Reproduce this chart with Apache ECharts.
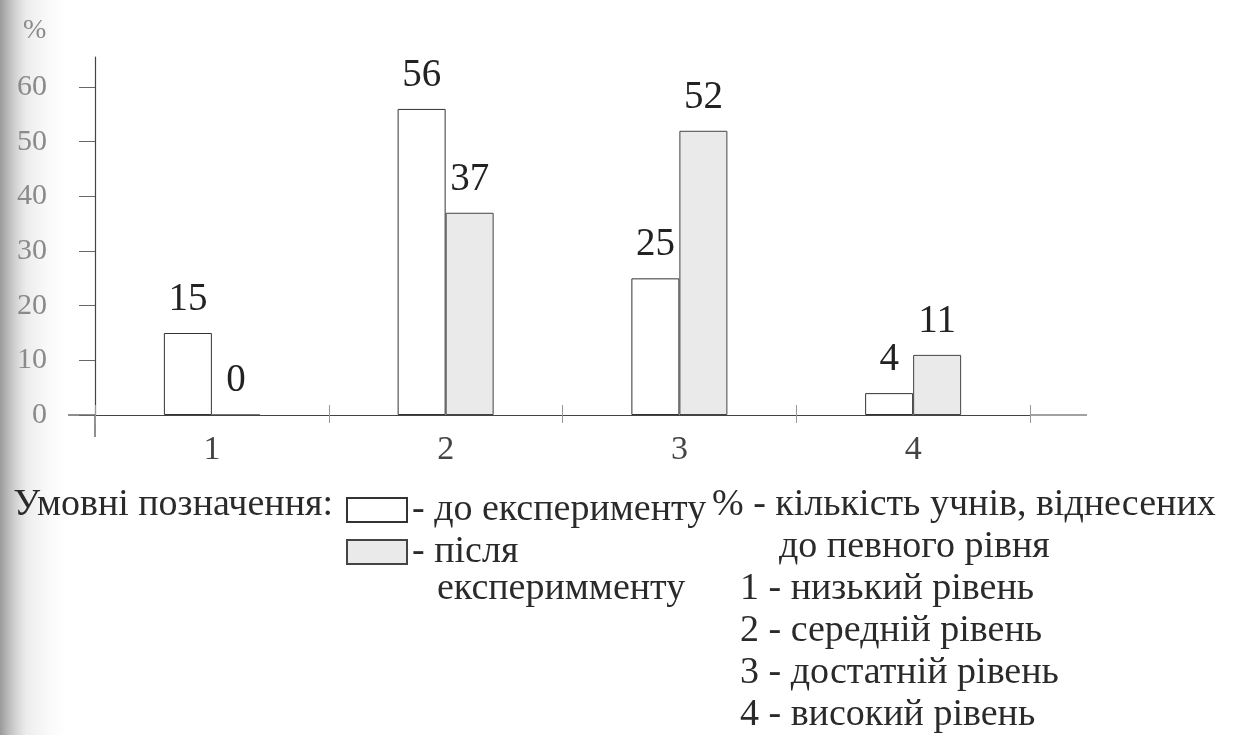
<!DOCTYPE html>
<html>
<head>
<meta charset="utf-8">
<script src="https://cdn.jsdelivr.net/npm/echarts/dist/echarts.min.js"></script>
<style>
  html, body { margin: 0; padding: 0; background: #fff; }
  #main { width: 1233px; height: 735px; }
</style>
</head>
<body>
<div id="main"></div>
<script>
// дані діаграми
var categories = ['1', '2', '3', '4'];
var beforeValues = [15, 56, 25, 4];   // до експерименту
var afterValues = [0, 37, 52, 11];    // після експеримменту
var yTicks = [0, 10, 20, 30, 40, 50, 60];
var seriesNames = ['до експерименту', 'після експеримменту'];
var legendLabels = ['- до експерименту', '- після'];
var notes = [
  '% - кількість учнів, віднесених',
  'до певного рівня',
  '1 - низький рівень',
  '2 - середній рівень',
  '3 - достатній рівень',
  '4 - високий рівень'
];

var serif = '"Liberation Serif", "DejaVu Serif", serif';
var chart = echarts.init(document.getElementById('main'));

// текст підписів під діаграмою (y - центр рядка)
var txt = function (x, y, text, align) {
  return {
    type: 'text', x: x, y: y,
    style: { text: text, font: '38px ' + serif, fill: '#2a2a2a', textAlign: align || 'left', textVerticalAlign: 'middle' }
  };
};

chart.setOption({
  animation: false,
  backgroundColor: '#fff',
  grid: { left: 95, right: 203, top: 57, bottom: 320 },
  legend: {
    orient: 'vertical',
    left: 341, top: 484,
    itemWidth: 60, itemHeight: 24, itemGap: 0,
    icon: 'rect',
    data: seriesNames,
    formatter: function (name) { return legendLabels[seriesNames.indexOf(name)]; },
    textStyle: { fontFamily: serif, fontSize: 38, color: '#2a2a2a', lineHeight: 42 }
  },
  xAxis: [{
    type: 'category',
    data: categories,
    axisLine: { lineStyle: { color: '#444', width: 1.2 } },
    axisTick: { show: true, length: 8, lineStyle: { color: '#999' } },
    axisLabel: { margin: 18, fontFamily: serif, fontSize: 34, color: '#444' }
  }, {
    type: 'category',
    position: 'bottom',
    data: categories,
    axisLine: { show: false },
    axisTick: { show: true, inside: true, length: 10, lineStyle: { color: '#999' } },
    axisLabel: { show: false }
  }],
  yAxis: {
    type: 'value',
    min: 0, max: 65.5,
    splitLine: { show: false },
    axisLine: { show: true, lineStyle: { color: '#444', width: 1.2 } },
    axisTick: { show: true, length: 16, customValues: yTicks, lineStyle: { color: '#666' } },
    axisLabel: { customValues: yTicks, margin: 48, fontFamily: serif, fontSize: 30, color: '#8a8a8a' }
  },
  series: [{
    name: seriesNames[0],
    type: 'bar',
    data: beforeValues,
    barWidth: 48,
    barGap: '0%',
    itemStyle: { color: '#ffffff', borderColor: '#333', borderWidth: 1 },
    label: { show: true, position: 'top', distance: 14, fontFamily: serif, fontSize: 39, color: '#222' }
  }, {
    name: seriesNames[1],
    type: 'bar',
    data: afterValues,
    barWidth: 48,
    itemStyle: { color: '#eaeaea', borderColor: '#444', borderWidth: 1 },
    label: { show: true, position: 'top', distance: 14, fontFamily: serif, fontSize: 39, color: '#222' }
  }]
});

// продовження осей, тінь скану, підписи
var origin = chart.convertToPixel({ xAxisIndex: 0, yAxisIndex: 0 }, [0, 0]);
var zeroY = origin[1];
var graphics = [
  {
    type: 'rect', z: -10, silent: true,
    shape: { x: 0, y: 0, width: 75, height: 735 },
    style: {
      fill: new echarts.graphic.LinearGradient(0, 0, 1, 0, [
        { offset: 0, color: 'rgba(120,120,120,0.75)' },
        { offset: 0.35, color: 'rgba(200,200,200,0.35)' },
        { offset: 1, color: 'rgba(255,255,255,0)' }
      ])
    }
  },
  { type: 'line', shape: { x1: 68, y1: zeroY, x2: 95, y2: zeroY }, style: { stroke: '#444', lineWidth: 1.2 } },
  { type: 'line', shape: { x1: 1030, y1: zeroY, x2: 1087, y2: zeroY }, style: { stroke: '#444', lineWidth: 1.2 } },
  { type: 'line', shape: { x1: 95, y1: zeroY, x2: 95, y2: zeroY + 22 }, style: { stroke: '#444', lineWidth: 1.2 } },
  { type: 'text', x: 23, y: 17, style: { text: '%', font: '28px ' + serif, fill: '#8a8a8a' } },
  txt(333, 505, 'Умовні позначення:', 'right'),
  txt(437, 589, 'експеримменту'),
  txt(712, 505, notes[0]),
  txt(779, 547, notes[1]),
  txt(740, 589, notes[2]),
  txt(740, 631, notes[3]),
  txt(740, 673, notes[4]),
  txt(740, 715, notes[5])
];
chart.setOption({ graphic: graphics });
</script>
</body>
</html>
